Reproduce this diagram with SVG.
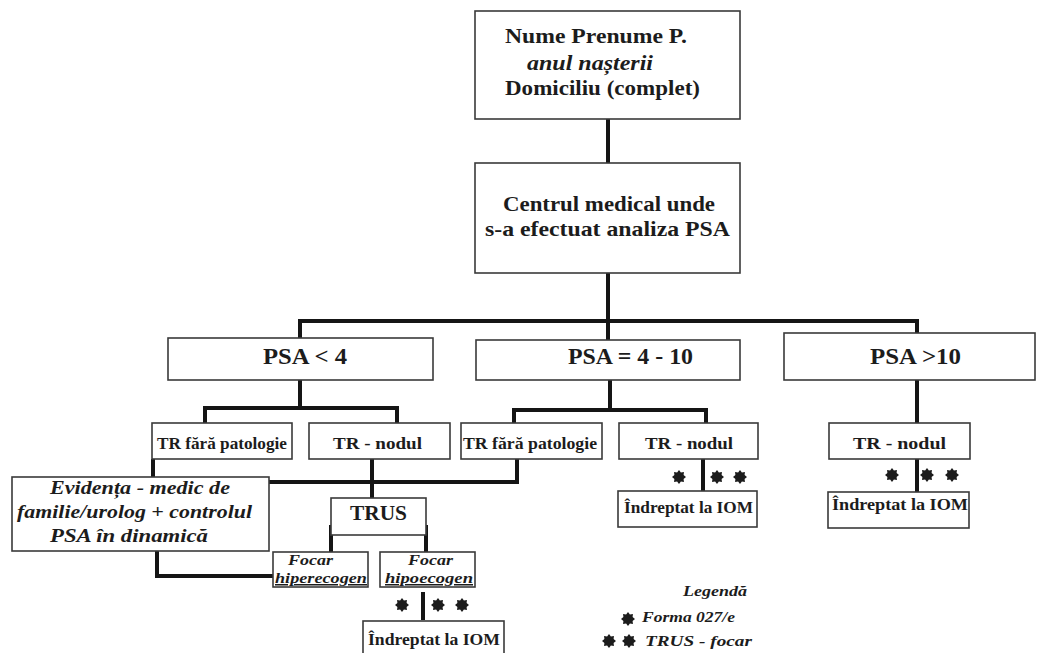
<svg xmlns="http://www.w3.org/2000/svg" xmlns:xlink="http://www.w3.org/1999/xlink" width="1039" height="653" viewBox="0 0 1039 653" font-family="Liberation Serif, DejaVu Serif, serif">
<style>
.box{fill:#fff;stroke:#3a3a3a;stroke-width:1.6}
.con{fill:none;stroke:#151515;stroke-width:4}
.t{font-weight:bold;fill:#1c1c1c}
.i{font-style:italic}
.star{fill:#1c1c1c}
</style>
<defs>
<polygon id="st" class="star" points="7,0 4.6,1.9 4.95,4.95 1.9,4.6 0,7 -1.9,4.6 -4.95,4.95 -4.6,1.9 -7,0 -4.6,-1.9 -4.95,-4.95 -1.9,-4.6 0,-7 1.9,-4.6 4.95,-4.95 4.6,-1.9"/>
</defs>
<rect width="1039" height="653" fill="#fff"/>
<g id="connectors">
<path class="con" d="M608 119 V163"/>
<path class="con" d="M608 273 V340"/>
<path class="con" d="M300 338 V321 H917 V333"/>
<path class="con" d="M300 380 V408"/>
<path class="con" d="M205 423 V408 H397 V423"/>
<path class="con" d="M610 380 V410"/>
<path class="con" d="M514 423 V410 H706 V423"/>
<path class="con" d="M917 380 V423"/>
<path class="con" d="M153 459 V477"/>
<path class="con" d="M372 459 V498"/>
<path class="con" d="M268 482 H517 V459"/>
<path class="con" d="M157 551 V576 H273"/>
<path class="con" d="M331 525 V552"/>
<path class="con" d="M426 525 V552"/>
<path class="con" d="M423 592 V620"/>
<path class="con" d="M703 459 V491"/>
<path class="con" d="M917 459 V492"/>
</g>
<g id="n-nume">
<rect class="box" x="475" y="11" width="265" height="108"/>
<text class="t" x="505" y="43" font-size="22" textLength="182" lengthAdjust="spacingAndGlyphs">Nume Prenume P.</text>
<text class="t i" x="527" y="70" font-size="22" textLength="126" lengthAdjust="spacingAndGlyphs">anul nașterii</text>
<text class="t" x="505" y="95" font-size="22" textLength="195" lengthAdjust="spacingAndGlyphs">Domiciliu (complet)</text>
</g>
<g id="n-centrul">
<rect class="box" x="475" y="163" width="265" height="110"/>
<text class="t" x="503" y="211" font-size="22" textLength="212" lengthAdjust="spacingAndGlyphs">Centrul medical unde</text>
<text class="t" x="485" y="236" font-size="22" textLength="245" lengthAdjust="spacingAndGlyphs">s-a efectuat analiza PSA</text>
</g>
<g id="n-psa4">
<rect class="box" x="168" y="338" width="265" height="42"/>
<text class="t" x="263" y="364" font-size="23" textLength="84" lengthAdjust="spacingAndGlyphs">PSA &lt; 4</text>
</g>
<g id="n-psa410">
<rect class="box" x="476" y="340" width="264" height="40"/>
<text class="t" x="568" y="364" font-size="23" textLength="125" lengthAdjust="spacingAndGlyphs">PSA = 4 - 10</text>
</g>
<g id="n-psa10">
<rect class="box" x="784" y="333" width="251" height="47"/>
<text class="t" x="870" y="364" font-size="23" textLength="91" lengthAdjust="spacingAndGlyphs">PSA &gt;10</text>
</g>
<g id="n-trf1">
<rect class="box" x="152" y="423" width="140" height="36"/>
<text class="t" x="157" y="449" font-size="16" textLength="130" lengthAdjust="spacingAndGlyphs">TR fără patologie</text>
</g>
<g id="n-trn1">
<rect class="box" x="309" y="423" width="141" height="36"/>
<text class="t" x="333" y="449" font-size="17" textLength="89" lengthAdjust="spacingAndGlyphs">TR - nodul</text>
</g>
<g id="n-trf2">
<rect class="box" x="461" y="423" width="141" height="36"/>
<text class="t" x="463" y="449" font-size="16" textLength="134" lengthAdjust="spacingAndGlyphs">TR fără patologie</text>
</g>
<g id="n-trn2">
<rect class="box" x="619" y="423" width="139" height="36"/>
<text class="t" x="645" y="449" font-size="17" textLength="88" lengthAdjust="spacingAndGlyphs">TR - nodul</text>
</g>
<g id="n-trn3">
<rect class="box" x="829" y="423" width="141" height="36"/>
<text class="t" x="853" y="449" font-size="17" textLength="93" lengthAdjust="spacingAndGlyphs">TR - nodul</text>
</g>
<g id="n-evidenta">
<rect class="box" x="12" y="477" width="257" height="74"/>
<text class="t i" x="50" y="494" font-size="19" textLength="180" lengthAdjust="spacingAndGlyphs">Evidența - medic de</text>
<text class="t i" x="17" y="518" font-size="19" textLength="235" lengthAdjust="spacingAndGlyphs">familie/urolog + controlul</text>
<text class="t i" x="50" y="542" font-size="19" textLength="158" lengthAdjust="spacingAndGlyphs">PSA în dinamică</text>
</g>
<g id="n-trus">
<rect class="box" x="331" y="498" width="95" height="37"/>
<text class="t" x="350" y="520" font-size="20" textLength="57" lengthAdjust="spacingAndGlyphs">TRUS</text>
</g>
<g id="n-hiper">
<rect class="box" x="273" y="552" width="95" height="35"/>
<text class="t i" x="288" y="565" font-size="15" textLength="45" lengthAdjust="spacingAndGlyphs">Focar</text>
<text class="t i" x="275" y="583" font-size="15" textLength="92" lengthAdjust="spacingAndGlyphs" text-decoration="underline">hiperecogen</text>
</g>
<g id="n-hipo">
<rect class="box" x="380" y="552" width="95" height="35"/>
<text class="t i" x="408" y="565" font-size="15" textLength="45" lengthAdjust="spacingAndGlyphs">Focar</text>
<text class="t i" x="385" y="583" font-size="15" textLength="88" lengthAdjust="spacingAndGlyphs" text-decoration="underline">hipoecogen</text>
</g>
<g id="n-iom1">
<rect class="box" x="363" y="621" width="141" height="40"/>
<text class="t" x="368" y="645" font-size="16" textLength="132" lengthAdjust="spacingAndGlyphs">Îndreptat la IOM</text>
</g>
<g id="n-iom2">
<rect class="box" x="618" y="491" width="139" height="36"/>
<text class="t" x="624" y="513" font-size="16" textLength="129" lengthAdjust="spacingAndGlyphs">Îndreptat la IOM</text>
</g>
<g id="n-iom3">
<rect class="box" x="828" y="492" width="141" height="36"/>
<text class="t" x="832" y="510" font-size="16" textLength="136" lengthAdjust="spacingAndGlyphs">Îndreptat la IOM</text>
</g>
<g id="stars">
<use xlink:href="#st" href="#st" x="679" y="477"/>
<use xlink:href="#st" href="#st" x="717" y="477"/>
<use xlink:href="#st" href="#st" x="740" y="477"/>
<use xlink:href="#st" href="#st" x="892" y="475"/>
<use xlink:href="#st" href="#st" x="927" y="475"/>
<use xlink:href="#st" href="#st" x="952" y="475"/>
<use xlink:href="#st" href="#st" x="402" y="605"/>
<use xlink:href="#st" href="#st" x="438" y="605"/>
<use xlink:href="#st" href="#st" x="462" y="605"/>
</g>
<g id="legend">
<text class="t i" x="683" y="596" font-size="15" textLength="64" lengthAdjust="spacingAndGlyphs">Legendă</text>
<use xlink:href="#st" href="#st" x="628" y="619"/>
<text class="t i" x="642" y="622" font-size="15" textLength="93" lengthAdjust="spacingAndGlyphs">Forma 027/e</text>
<use xlink:href="#st" href="#st" x="609" y="641"/>
<use xlink:href="#st" href="#st" x="629" y="641"/>
<text class="t i" x="645" y="646" font-size="15" textLength="107" lengthAdjust="spacingAndGlyphs">TRUS - focar</text>
</g>
</svg>
